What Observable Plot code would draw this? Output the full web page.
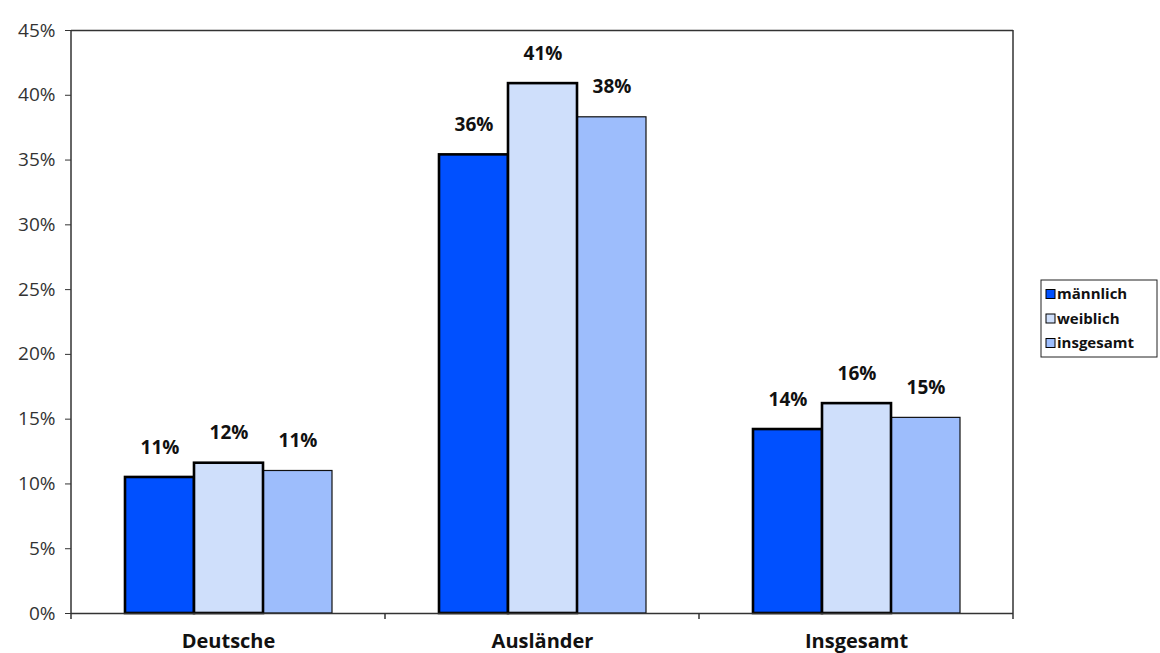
<!DOCTYPE html>
<html><head><meta charset="utf-8">
<script src="https://cdn.jsdelivr.net/npm/d3@7"></script>
<script src="https://cdn.jsdelivr.net/npm/@observablehq/plot@0.6"></script>
<style>body{margin:0;background:#fff}#chart{position:relative;width:1160px;height:653px}</style>
</head><body><div id="chart"></div>
<script>
const categories = ["Deutsche", "Ausländer", "Insgesamt"];
const series = ["männlich", "weiblich", "insgesamt"];
const maennlich = [10.5, 35.4, 14.2];
const weiblich = [11.6, 40.9, 16.2];
const insgesamt = [11.0, 38.3, 15.1];
const maennlichLabels = ["11%", "36%", "14%"];
const weiblichLabels = ["12%", "41%", "16%"];
const insgesamtLabels = ["11%", "38%", "15%"];
const yTicks = [0, 5, 10, 15, 20, 25, 30, 35, 40, 45];
const colors = ["#0050ff", "#cfdffb", "#9dbdfc"];

const valueSets = [maennlich, weiblich, insgesamt];
const labelSets = [maennlichLabels, weiblichLabels, insgesamtLabels];
const data = categories.flatMap((c, i) => series.map((s, j) => ({cat: c, series: s, value: valueSets[j][i], label: labelSets[j][i]})));
const thick = data.filter(d => d.series !== "insgesamt");
const thin = data.filter(d => d.series === "insgesamt");

const font = "'Open Sans', 'DejaVu Sans', sans-serif";
const plot = Plot.plot({
  width: 1160, height: 653,
  marginLeft: 71, marginRight: 147, marginTop: 30, marginBottom: 40,
  style: {fontFamily: font, background: "white", overflow: "visible"},
  fx: {domain: categories, padding: 0, label: null},
  x: {domain: series, axis: null, paddingInner: 0, paddingOuter: 0.743},
  y: {domain: [0, 45], label: null},
  color: {domain: series, range: colors},
  marks: [
    Plot.barY(thin, {fx: "cat", x: "series", y: "value", fill: "series", stroke: "#111", strokeWidth: 1.2}),
    Plot.barY(thick, {fx: "cat", x: "series", y: "value", fill: "series", stroke: "#000", strokeWidth: 2.6}),
    Plot.ruleY([0], {stroke: "#333", strokeWidth: 1.5}),
    Plot.ruleY([45], {stroke: "#333", strokeWidth: 1.5}),
    Plot.text(data, {fx: "cat", x: "series", y: "value", text: "label", dy: -30, fontWeight: "bold", fontSize: 19, fill: "#111"}),
    Plot.axisY({ticks: yTicks, tickFormat: d => d + "%", tickSize: 6, tickPadding: 10, fontSize: 19, fill: "#333", stroke: "#333", label: null}),
    Plot.axisFx({anchor: "bottom", tickSize: 0, tickPadding: 20, fontSize: 20, fontWeight: "bold", fill: "#111", label: null})
  ]
});
document.getElementById("chart").appendChild(plot);

// frame lines and category boundary ticks, derived from the scales
const svg = d3.select(plot);
const y = plot.scale("y");
const fx = plot.scale("fx");
const x0 = fx.apply(categories[0]);
const x1 = fx.apply(categories[categories.length - 1]) + fx.bandwidth;
const yTop = y.apply(45), yBot = y.apply(0);
const g = svg.append("g").attr("stroke", "#333").attr("stroke-width", 1.5);
g.append("line").attr("x1", x0).attr("x2", x0).attr("y1", yTop).attr("y2", yBot);
g.append("line").attr("x1", x1).attr("x2", x1).attr("y1", yTop).attr("y2", yBot);
const edges = categories.map(c => fx.apply(c)).concat([x1]);
edges.forEach(e => g.append("line").attr("x1", e).attr("x2", e).attr("y1", yBot).attr("y2", yBot + 6));

// legend
const lg = svg.append("g").attr("font-family", font).attr("text-anchor", "start");
lg.append("rect").attr("x", 1041).attr("y", 280).attr("width", 116).attr("height", 77)
  .attr("fill", "white").attr("stroke", "#222").attr("stroke-width", 1);
series.forEach((s, i) => {
  const cy = 294 + i * 24.5;
  lg.append("rect").attr("x", 1046).attr("y", cy - 4.5).attr("width", 9).attr("height", 9)
    .attr("fill", colors[i]).attr("stroke", "#000").attr("stroke-width", 1);
  lg.append("text").attr("x", 1057).attr("y", cy).attr("dy", "0.35em").attr("text-anchor", "start")
    .attr("font-size", 15).attr("font-weight", "bold").attr("fill", "#111").text(s);
});
</script></body></html>
